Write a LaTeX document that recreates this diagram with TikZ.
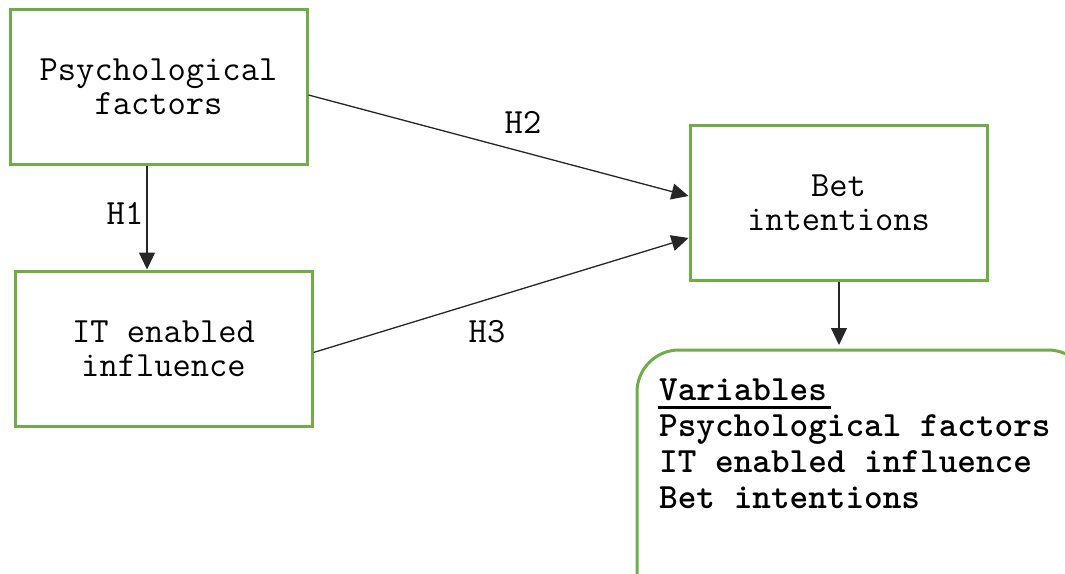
\documentclass[tikz,border=0pt]{standalone}
\usepackage{fontspec}
\usetikzlibrary{arrows.meta}
\definecolor{boxgreen}{RGB}{112,173,71}
\tikzset{
  box/.style={draw=boxgreen, line width=3pt, minimum width=297pt, minimum height=155pt, align=center, inner sep=0pt, font=\ttfamily\fontsize{35.5}{34}\selectfont},
  conn/.style={draw=black!85, line width=1.3pt, -{Triangle[length=17pt,width=16pt]}},
  hlabel/.style={font=\ttfamily\fontsize{35.5}{34}\selectfont, inner sep=0pt},
  vartext/.style={font=\ttfamily\fontsize{35.5}{36}\selectfont\bfseries, anchor=base west, inner sep=0pt}
}
\begin{document}
\begin{tikzpicture}[x=1pt,y=-1pt]
\useasboundingbox (0,0) rectangle (1065,573);
\fill[white] (0,0) rectangle (1065,573);
\node[box] (psych) at (158.5,86.5) {Psychological\\factors};
\node[box] (it) at (163.5,348.5) {IT enabled\\influence};
\node[box] (bet) at (838.5,202.5) {Bet\\intentions};
\begin{scope}
\clip (0,0) rectangle (1065,573);
\node[draw=boxgreen, line width=3pt, rounded corners=42pt, minimum width=453pt, minimum height=262pt, inner sep=0pt] (vars) at (863.5,481) {};
\end{scope}
\coordinate (varsin) at (839,345);
\node[vartext] (v0) at (659,400) {Variables};
\draw[line width=3pt] (v0.base west) ++(-1,7) -- ++(173,0);
\node[vartext] (v1) at (659,436) {Psychological factors};
\node[vartext] (v2) at (659,472) {IT enabled influence};
\node[vartext] (v3) at (659,508) {Bet intentions};
\draw[conn] (psych.south -| 147,0) -- (it.north -| 147,0);
\draw[conn] ([yshift=-8.5pt]psych.east) -- ([yshift=6.5pt]bet.west);
\draw[conn] ([yshift=-4pt]it.east) -- ([yshift=-35.5pt]bet.west);
\draw[conn] (bet.south -| varsin) -- (varsin);
\node[hlabel] (h1) at (125,213) {H1};
\node[hlabel] (h2) at (523,122) {H2};
\node[hlabel] (h3) at (487,332) {H3};
\end{tikzpicture}
\end{document}
